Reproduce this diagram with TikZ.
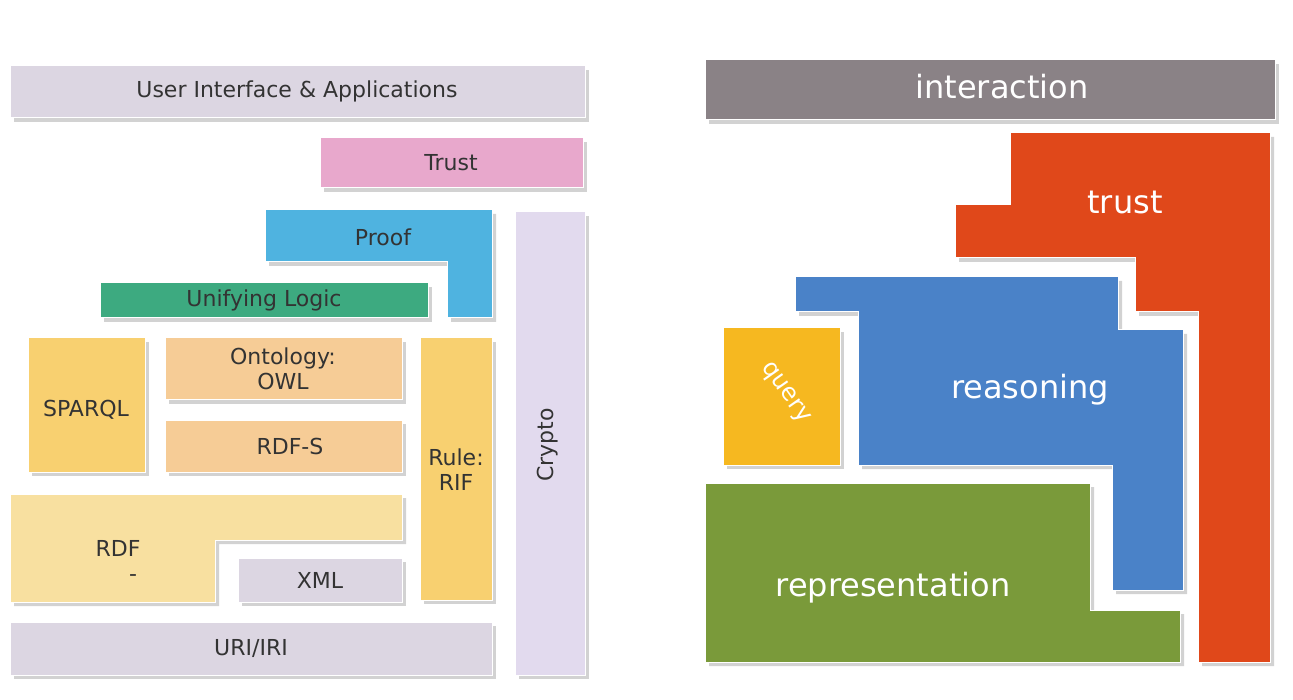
\documentclass[tikz,border=0pt]{standalone}
\usepackage{fontspec}
\setmainfont{DejaVu Sans}
\usetikzlibrary{shadows}
\definecolor{lav}{HTML}{DCD6E2}
\definecolor{pinkc}{HTML}{E8A8CC}
\definecolor{crypt}{HTML}{E2DAEE}
\definecolor{proofc}{HTML}{4FB3E0}
\definecolor{logicc}{HTML}{3DAA80}
\definecolor{yel}{HTML}{F8D070}
\definecolor{peach}{HTML}{F6CC96}
\definecolor{rdfc}{HTML}{F8E0A0}
\definecolor{grayc}{HTML}{8A8286}
\definecolor{redc}{HTML}{E0481A}
\definecolor{bluec}{HTML}{4A82C8}
\definecolor{queryc}{HTML}{F6B820}
\definecolor{greenc}{HTML}{7A9A3A}
\tikzset{
 blk/.style={draw=white,line width=1pt,drop shadow={shadow xshift=4pt,shadow yshift=-4pt,fill=black!35}},
 lt/.style={font=\fontsize{22}{25}\selectfont,text=black!80,align=center},
 rt/.style={font=\fontsize{32}{36}\selectfont,text=white}
}
\begin{document}
\begin{tikzpicture}[x=1pt,y=-1pt]
\useasboundingbox[fill=white] (0,0) rectangle (1293,700);
% left
\path[blk,fill=lav] (10,66) rectangle (585,118);
\node[lt] (ui) at (297,91) {User Interface \& Applications};
\path[blk,fill=pinkc] (320,138) rectangle (583,188);
\node[lt] (tr) at (451,163) {Trust};
\path[blk,fill=crypt] (515,212) rectangle (585,675);
\node[lt,rotate=90] (cr) at (548,445) {Crypto};
\path[blk,fill=proofc] (265,210) -- (492,210) -- (492,318) -- (447,318) -- (447,262) -- (265,262) -- cycle;
\node[lt] (pr) at (383,237) {Proof};
\path[blk,fill=logicc] (100,283) rectangle (428,318);
\node[lt] (ul) at (264,300) {Unifying Logic};
\path[blk,fill=yel] (28,338) rectangle (145,472);
\node[lt] (sp) at (86,410) {SPARQL};
\path[blk,fill=peach] (165,338) rectangle (402,400);
\node[lt] (on) at (283,369) {Ontology:\\OWL};
\path[blk,fill=peach] (165,420) rectangle (402,472);
\node[lt] (rs) at (290,446) {RDF-S};
\path[blk,fill=yel] (420,338) rectangle (492,600);
\node[lt] (ru) at (456,470) {Rule:\\RIF};
\path[blk,fill=rdfc] (10,494) -- (402,494) -- (402,540) -- (215,540) -- (215,602) -- (10,602) -- cycle;
\node[lt] (rdf) at (118,548) {RDF};
\node[lt] (dash) at (133,578) {-};
\path[blk,fill=lav] (238,558) rectangle (402,602);
\node[lt] (xml) at (320,580) {XML};
\path[blk,fill=lav] (10,622) rectangle (492,675);
\node[lt] (uri) at (251,648) {URI/IRI};
% right
\path[blk,fill=grayc] (705,60) rectangle (1275,120);
\node[rt] (in) at (1002,87) {interaction};
\path[blk,fill=redc] (1010,133) -- (1270,133) -- (1270,662) -- (1198,662) -- (1198,312) -- (1135,312) -- (1135,258) -- (955,258) -- (955,205) -- (1010,205) -- cycle;
\node[rt] (tru) at (1125,202) {trust};
\path[blk,fill=bluec] (795,277) -- (1118,277) -- (1118,330) -- (1183,330) -- (1183,590) -- (1112,590) -- (1112,465) -- (858,465) -- (858,312) -- (795,312) -- cycle;
\node[rt] (re) at (1030,390) {reasoning};
\path[blk,fill=queryc] (723,328) rectangle (840,465);
\node[rt,rotate=-55,font=\fontsize{24}{28}\selectfont,inner sep=0pt] (q) at (785,393) {query};
\path[blk,fill=greenc] (705,483) -- (1090,483) -- (1090,610) -- (1180,610) -- (1180,662) -- (705,662) -- cycle;
\node[rt] (rep) at (893,588) {representation};
\end{tikzpicture}
\end{document}
